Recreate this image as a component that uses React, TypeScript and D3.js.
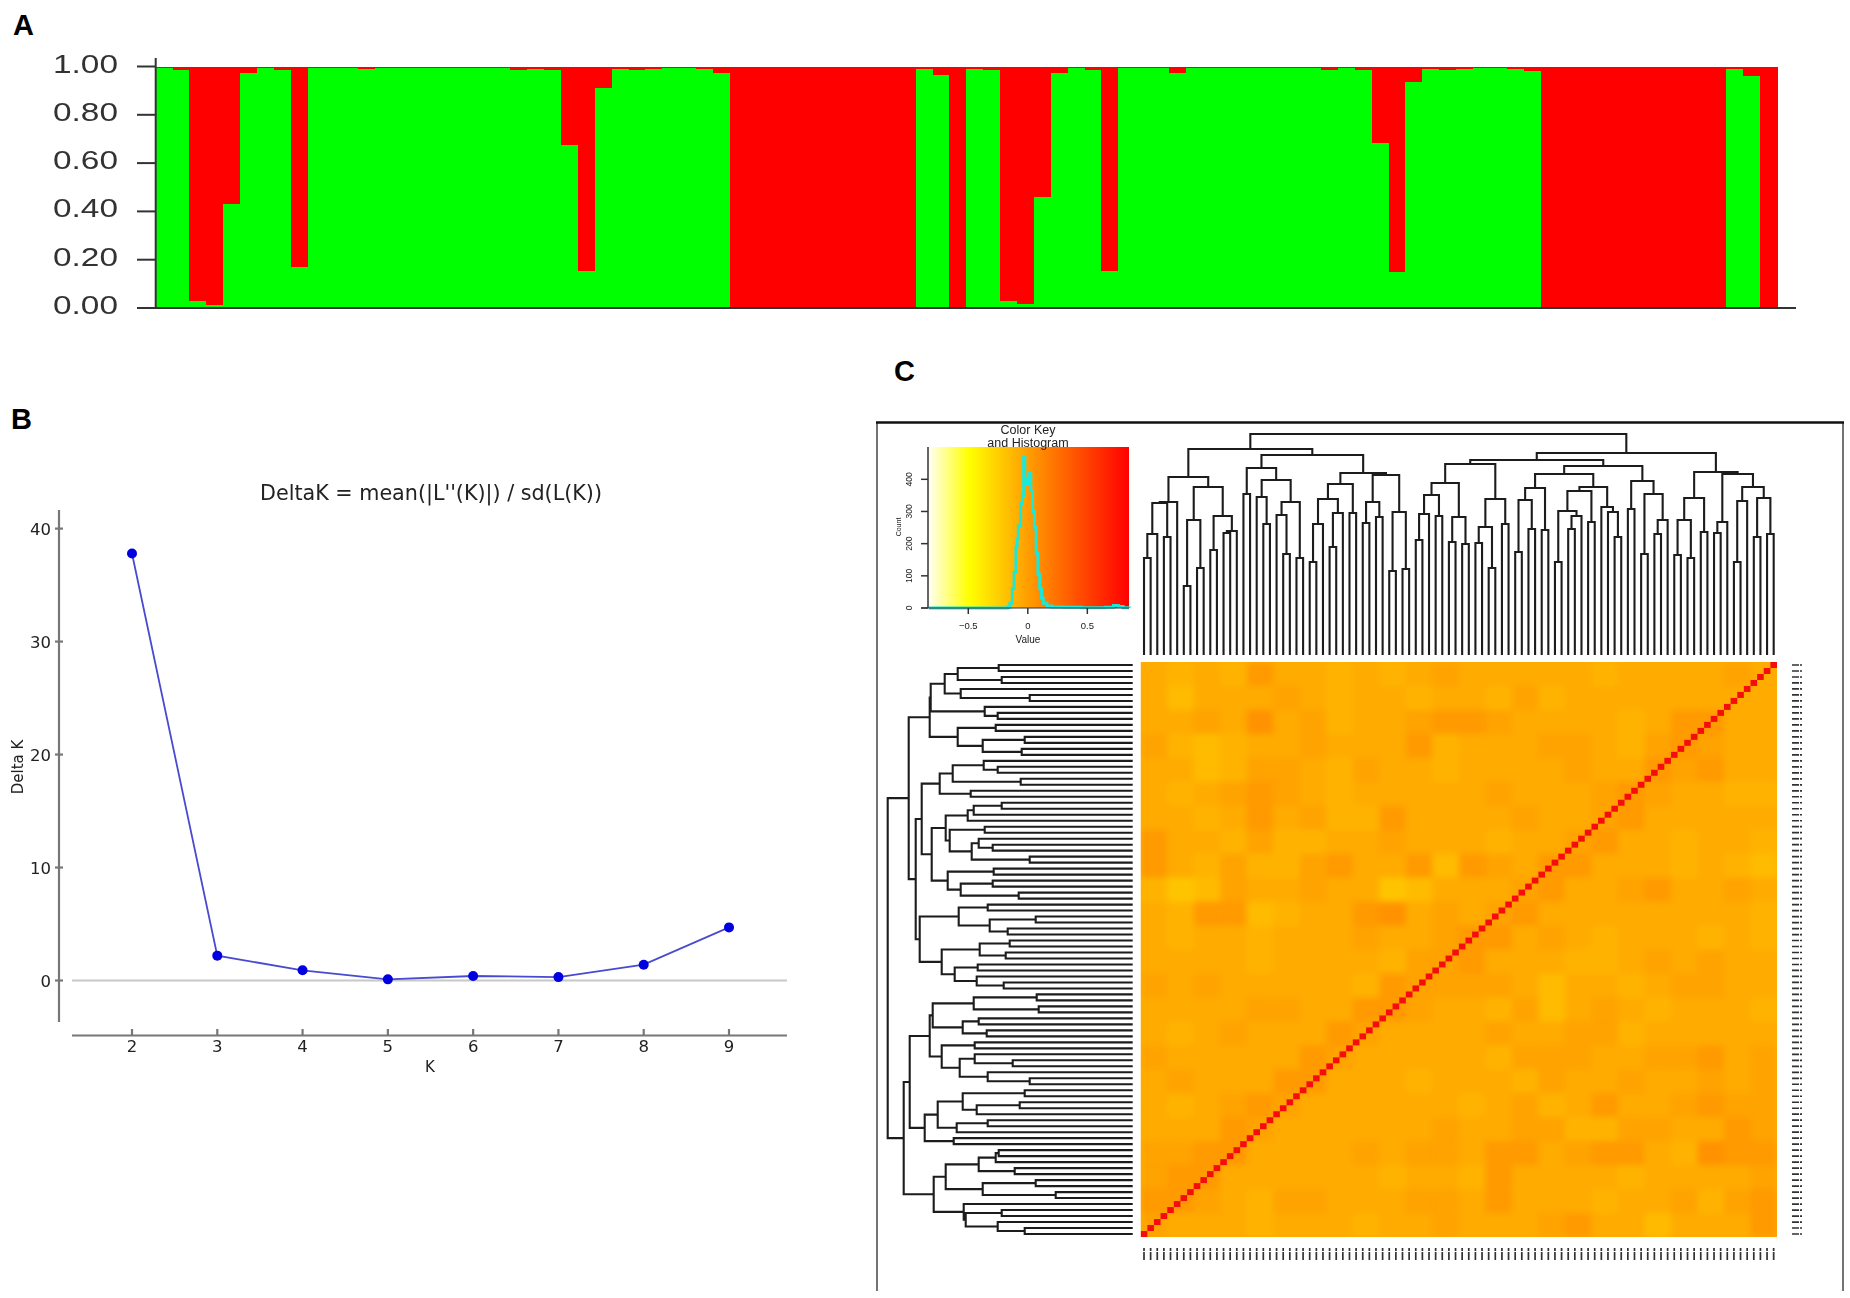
import * as d3 from "d3";

// ── A: membership bars ────────────────────────────────────────
const greenShare = [
  0.995, 0.985, 0.03, 0.012, 0.43, 0.975, 0.995, 0.985, 0.17, 0.995, 0.995, 0.995,
  0.99, 0.995, 0.995, 0.992, 0.995, 0.995, 0.995, 0.995, 0.995, 0.985, 0.99, 0.985,
  0.676, 0.152, 0.91, 0.99, 0.985, 0.99, 0.993, 0.995, 0.99, 0.975,
  0, 0.006, 0, 0, 0.006, 0, 0, 0.006, 0.006, 0, 0.006,
  0.989, 0.966, 0, 0.99, 0.987, 0.03, 0.018, 0.459, 0.975, 0.995, 0.987, 0.155,
  0.995, 0.995, 0.995, 0.975, 0.995, 0.992, 0.995, 0.995, 0.995, 0.995, 0.995, 0.995,
  0.987, 0.992, 0.987, 0.683, 0.147, 0.934, 0.99, 0.985, 0.99, 0.995, 0.993, 0.99, 0.98,
  0, 0, 0, 0, 0.006, 0, 0.006, 0.006, 0.006, 0, 0.006,
  0.99, 0.959, 0,
];
const shareTicks = [0, 0.2, 0.4, 0.6, 0.8, 1];

// ── B: Delta K ────────────────────────────────────────────────
const kValues = [2, 3, 4, 5, 6, 7, 8, 9];
const deltaK = [37.8, 2.2, 0.9, 0.1, 0.4, 0.3, 1.4, 4.7];
const deltaTicks = [0, 10, 20, 30, 40];

// ── C: colour key ─────────────────────────────────────────────
const keyOffsets = [0, 0.2, 0.5, 1];
const keyColors = ["#fffff0", "#ffff00", "#ff9c00", "#ff0000"];
const keyTicks = [-0.5, 0, 0.5];
const countTicks = [0, 100, 200, 300, 400];
const histValue = [
  -0.83, -0.17, -0.15, -0.13, -0.115, -0.1, -0.09, -0.08, -0.06, -0.045, -0.035, -0.025, -0.01,
  0, 0.015, 0.025, 0.04, 0.055, 0.07, 0.085, 0.1, 0.115, 0.13, 0.16, 0.2, 0.3, 0.45, 0.65, 0.72,
  0.76, 0.8, 0.85,
];
const histCount = [
  0, 2, 15, 60, 110, 190, 215, 255, 325, 350, 470, 395, 385,
  400, 420, 365, 300, 250, 170, 105, 60, 30, 15, 6, 3, 2, 1, 2, 8,
  5, 1, 0,
];

// ── C: dendrograms: [height, left, right], L is a leaf ────────
type Tree = 0 | [number, Tree, Tree];
const L = 0;
const p = (h: number, a: Tree = L, b: Tree = L): Tree => [h, a, b];

const topTree: Tree = p(221,
  p(206,
    p(178,
      p(153, p(152, p(121, p(97), L), p(118)), L),
      p(168, p(135, p(69), p(87)), p(139, p(105), p(124, p(122), L)))),
    p(200,
      p(187, p(161), p(175, p(158, L, p(131)), p(153, p(140, L, p(101)), p(97)))),
      p(182,
        p(171, p(156, p(131, p(93), L), p(142, p(108), L)), p(142)),
        p(180, p(153, p(132), p(138)), p(143, p(84), p(86)))))),
  p(202,
    p(195,
      p(191,
        p(172, p(160, p(141, p(115), L), p(139)), p(138, p(113), p(111))),
        p(156, p(128, p(112), p(87)), p(131))),
      p(189,
        p(181,
          p(167, p(155, p(103), p(126)), p(125)),
          p(168,
            p(164, p(144, p(93), p(139, p(126), L)), p(133)),
            p(148, L, p(143, L, p(118))))),
        p(174, p(146), p(161, p(101), p(135, p(121), L))))),
    p(183,
      p(157, p(135, p(100), p(97)), p(123)),
      p(181,
        p(133, p(122), L),
        p(168, p(154, p(93), L), p(157, p(118), p(121)))))));

const leftTree: Tree = p(245,
  p(224,
    p(203,
      p(202,
        p(188, p(175, p(134), p(131)), p(172, L, p(103))),
        p(148, L, p(135))),
      p(175, p(137), p(150, p(108), p(111)))),
    p(217,
      p(211,
        p(193, p(180, p(149, L, p(135)), p(112)), p(162)),
        p(201,
          p(187,
            p(165, p(159, p(131), L), L),
            p(183, p(148), p(161, p(154, L, p(140)), p(103)))),
          p(185, p(139), p(172, p(140), p(114))))),
      p(213,
        p(174, p(145), p(143, p(97), p(125))),
        p(191, p(153, p(123), p(127)), p(178, p(155), p(156, L, p(129))))))),
  p(229,
    p(223,
      p(203,
        p(200, p(159, p(96), p(94)), p(170, p(154), p(146))),
        p(191, p(158), p(173, p(158, L, p(120)), p(145, L, p(103))))),
      p(208,
        p(195, p(170, p(108), p(156, p(113), L)), p(176, p(145), L)),
        p(179))),
    p(199,
      p(187, p(154, p(137, p(134), L), p(118)), p(150, p(97), p(77))),
      p(169, L, p(167, p(131), p(135, L, p(108)))))));

// ── C: heat map, colour bands read per 24×24 block (0 pale … 9 deep) ──
const heatRows = [
  "545475545456555554555565",
  "535556545545546455555555",
  "556585645567765555457755",
  "643455655574555665467655",
  "553466546554555565576755",
  "545676545555565556765544",
  "554575644755556556755555",
  "755464455655545567554554",
  "754644675573765775554543",
  "423655655235556755675565",
  "547734557856567555555554",
  "545545556556775654555454",
  "555545555466755544565655",
  "656555554766665355456655",
  "555566557765546356545554",
  "545655576555565566455555",
  "655555765555546665566756",
  "565557755545554655655656",
  "545676555555456457556766",
  "555765555556556644665576",
  "667755556566577567754877",
  "677555555455475555455556",
  "776546655566575554556467",
  "655545554556555675535557",
];

const N = 96;
const leaves = d3.range(N);
const coarse = d3.range(24);

// ── Scales ────────────────────────────────────────────────────
const barX = d3.scaleBand<number>().domain(leaves).range([155.7, 1777]);
const shareY = d3.scaleLinear().domain([0, 1]).range([308, 66.5]);

const kX = d3.scaleLinear().domain([2, 9]).range([132, 729]);
const deltaY = d3.scaleLinear().domain([0, 40]).range([980.5, 528.6]);
const deltaLine = d3.line<number>().x((_d, i) => kX(kValues[i])).y((d) => deltaY(d));

const keyX = d3.scaleLinear().domain([-0.83, 0.85]).range([929, 1129]);
const countY = d3.scaleLinear().domain([0, 400]).range([608, 479.3]);
const histLine = d3.line<number>()
  .x((_d, i) => keyX(histValue[i])).y((d) => countY(d)).curve(d3.curveStepAfter);

const colX = d3.scaleBand<number>().domain(leaves).range([1140.7, 1777]);
const rowY = d3.scaleBand<number>().domain(leaves).range([662, 1237]);
const blockX = d3.scaleBand<number>().domain(coarse).range([1140.7, 1777]);
const blockY = d3.scaleBand<number>().domain(coarse).range([662, 1237]);
const bandColor = d3.scaleLinear<string>().domain([0, 9]).range(["#ffd400", "#ff8a00"]);

const topH = d3.scaleLinear().domain([0, 220]).range([655, 435]);
const leftH = d3.scaleLinear().domain([0, 245]).range([1132.7, 887.7]);

// Walks a tree in leaf order and returns the joined U shapes
function dendroPath(tree: Tree, pos: (i: number) => number, draw: (path: d3.Path, a: number, h: number, first: boolean) => void) {
  const path = d3.path();
  let next = 0;
  const walk = (t: Tree): { at: number; h: number } => {
    if (t === 0) return { at: pos(next++), h: 0 };
    const a = walk(t[1]);
    const b = walk(t[2]);
    draw(path, a.at, a.h, true);
    draw(path, a.at, t[0], false);
    draw(path, b.at, t[0], false);
    draw(path, b.at, b.h, false);
    return { at: (a.at + b.at) / 2, h: t[0] };
  };
  walk(tree);
  return path.toString();
}

const topPath = dendroPath(topTree, (i) => colX(i)! + colX.bandwidth() / 2, (path, at, h, first) =>
  first ? path.moveTo(at, topH(h)) : path.lineTo(at, topH(h)));
const leftPath = dendroPath(leftTree, (i) => rowY(i)! + rowY.bandwidth() / 2, (path, at, h, first) =>
  first ? path.moveTo(leftH(h), at) : path.lineTo(leftH(h), at));

const ARIAL = "'Liberation Sans', Arial, sans-serif";
const DEJAVU = "'DejaVu Sans', sans-serif";

export default function App() {
  return (
    <svg width={1850} height={1298} style={{ position: "absolute", left: 0, top: 0, background: "#fff" }}>
      <defs>
        <linearGradient id="keyFill">
          {keyOffsets.map((o, i) => <stop key={o} offset={o} stopColor={keyColors[i]} />)}
        </linearGradient>
        <filter id="soft"><feGaussianBlur stdDeviation={0.5} /></filter>
        <filter id="softer"><feGaussianBlur stdDeviation={0.8} /></filter>
        <filter id="heatBlur"><feGaussianBlur stdDeviation={3} /></filter>
        <clipPath id="heatClip"><rect x={1140.7} y={662} width={636.3} height={575} /></clipPath>
      </defs>

      {/* panel letters */}
      <g fontFamily={ARIAL} fontWeight="bold" fontSize={29} fill="#000">
        <text x={13} y={35}>A</text>
        <text x={11} y={429}>B</text>
        <text x={894} y={381}>C</text>
      </g>

      {/* ── A ── */}
      <g shapeRendering="crispEdges">
        {greenShare.map((v, i) => (
          <g key={i}>
            <rect x={barX(i)} width={barX.bandwidth() + 0.5} y={shareY(1)} height={shareY(v) - shareY(1)} fill="#ff0000" />
            <rect x={barX(i)} width={barX.bandwidth() + 0.5} y={shareY(v)} height={shareY(0) - shareY(v)} fill="#00ff00" />
          </g>
        ))}
      </g>
      <g stroke="#333" strokeWidth={2}>
        <line x1={155.7} x2={155.7} y1={58} y2={308} />
        <line x1={137} x2={1796} y1={308} y2={308} />
        {shareTicks.map((t) => <line key={t} x1={137} x2={155.7} y1={shareY(t)} y2={shareY(t)} />)}
      </g>
      <g fontFamily={ARIAL} fontSize={25} fill="#333" filter="url(#soft)">
        {shareTicks.map((t) => (
          <text key={t} x={53} y={shareY(t) + 6} textLength={65} lengthAdjust="spacingAndGlyphs">{t.toFixed(2)}</text>
        ))}
      </g>

      {/* ── B ── */}
      <line x1={72} x2={787} y1={deltaY(0)} y2={deltaY(0)} stroke="#c8c8c8" strokeWidth={1.8} />
      <g stroke="#777" strokeWidth={2.2}>
        <line x1={59} x2={59} y1={510} y2={1022} />
        <line x1={72} x2={787} y1={1035.5} y2={1035.5} />
        {deltaTicks.map((t) => <line key={t} x1={55} x2={63} y1={deltaY(t)} y2={deltaY(t)} />)}
        {kValues.map((k) => <line key={k} x1={kX(k)} x2={kX(k)} y1={1029} y2={1035.5} />)}
      </g>
      <path d={deltaLine(deltaK) ?? ""} fill="none" stroke="#4a4ad0" strokeWidth={1.8} />
      {deltaK.map((d, i) => <circle key={i} cx={kX(kValues[i])} cy={deltaY(d)} r={5} fill="#0000e0" />)}
      <g fontFamily={DEJAVU} fontSize={16.5} fill="#222" filter="url(#soft)">
        {deltaTicks.map((t) => <text key={t} x={51} y={deltaY(t) + 6} textAnchor="end">{t}</text>)}
        {kValues.map((k) => <text key={k} x={kX(k)} y={1052} textAnchor="middle">{k}</text>)}
        <text x={430} y={1072} textAnchor="middle" fontSize={15}>K</text>
        <text transform="translate(23,767) rotate(-90)" textAnchor="middle" fontSize={15}>Delta K</text>
        <text x={431} y={500} textAnchor="middle" fontSize={20.7}>DeltaK = mean(|L''(K)|) / sd(L(K))</text>
      </g>

      {/* ── C frame ── */}
      <g stroke="#444">
        <line x1={877} x2={877} y1={422} y2={1291} strokeWidth={1.5} />
        <line x1={1843} x2={1843} y1={422} y2={1291} strokeWidth={1.5} />
        <line x1={876} x2={1844} y1={422.5} y2={422.5} strokeWidth={2.5} stroke="#111" />
      </g>

      {/* colour key */}
      <rect x={929} y={447} width={200} height={161} fill="url(#keyFill)" />
      <path d={histLine(histCount) ?? ""} fill="none" stroke="#1de8da" strokeWidth={3} filter="url(#soft)" />
      <g filter="url(#soft)">
        <g stroke="#333" strokeWidth={1.5}>
          <line x1={928} x2={928} y1={447} y2={608} />
          {countTicks.map((t) => <line key={t} x1={921} x2={928} y1={countY(t)} y2={countY(t)} />)}
          <line x1={921} x2={1129} y1={608} y2={608} strokeWidth={1} />
          {keyTicks.map((t) => <line key={t} x1={keyX(t)} x2={keyX(t)} y1={608} y2={614} />)}
        </g>
        <g fontFamily={ARIAL} fill="#222" textAnchor="middle">
          <text x={1028} y={434} fontSize={12.5}>Color Key</text>
          <text x={1028} y={447} fontSize={12.5}>and Histogram</text>
          {keyTicks.map((t) => (
            <text key={t} x={keyX(t)} y={629} fontSize={9.5}>{t === 0 ? "0" : t < 0 ? "−0.5" : "0.5"}</text>
          ))}
          <text x={1028} y={643} fontSize={10}>Value</text>
          {countTicks.map((t) => (
            <text key={t} transform={`translate(912,${countY(t)}) rotate(-90)`} fontSize={8.5}>{t}</text>
          ))}
          <text transform="translate(901,527) rotate(-90)" fontSize={7}>Count</text>
        </g>
      </g>

      {/* dendrograms */}
      <g filter="url(#soft)" fill="none" stroke="#1c1c1c" strokeWidth={2.1}>
        <path d={topPath} />
        <path d={leftPath} />
      </g>

      {/* heat map */}
      <g clipPath="url(#heatClip)">
        <rect x={1140.7} y={662} width={636.3} height={575} fill="#ffae00" />
        <g filter="url(#heatBlur)">
          {heatRows.map((row, r) =>
            row.split("").map((c, k) => (
              <rect key={`${r}-${k}`} x={blockX(k)} y={blockY(r)} width={blockX.bandwidth() + 0.5}
                height={blockY.bandwidth() + 0.5} fill={bandColor(+c)} />
            ))
          )}
        </g>
        <g filter="url(#soft)">
          {leaves.map((i) => (
            <rect key={i} x={colX(i)} y={rowY(N - 1 - i)} width={colX.bandwidth()} height={rowY.bandwidth()} fill="#f50f0f" />
          ))}
        </g>
      </g>

      {/* row and column labels, too small in the source to read */}
      <g filter="url(#soft)" stroke="#333">
        {leaves.map((i) => (
          <line key={i} x1={1792} x2={1802} y1={rowY(i)! + 3} y2={rowY(i)! + 3} strokeWidth={1.7} strokeDasharray="7 1 2" />
        ))}
        {leaves.map((i) => (
          <line key={i} x1={colX(i)! + 3.3} x2={colX(i)! + 3.3} y1={1248} y2={1260} strokeWidth={1.7} strokeDasharray="3 1 8" />
        ))}
      </g>
    </svg>
  );
}
